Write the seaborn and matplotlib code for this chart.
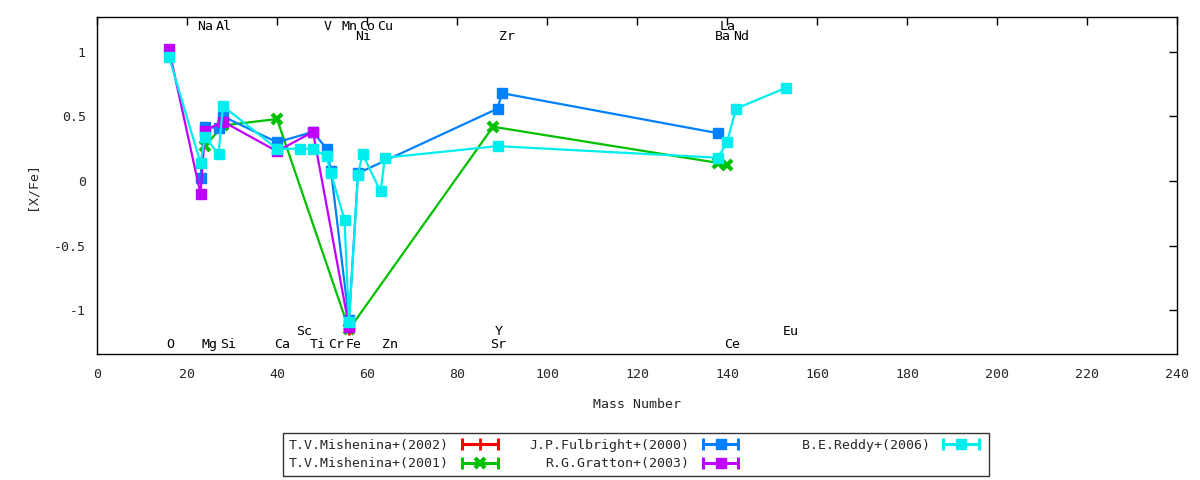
import matplotlib
matplotlib.use("Agg")
import matplotlib.pyplot as plt
from matplotlib.lines import Line2D
from matplotlib.legend_handler import HandlerLine2D, HandlerTuple
import seaborn as sns
import pandas as pd

# ---------------- data ----------------
elements = ["O", "Na", "Mg", "Al", "Si", "Ca", "Sc", "Ti", "V", "Cr", "Mn", "Fe",
            "Ni", "Co", "Cu", "Zn", "Sr", "Y", "Zr", "Ba", "La", "Ce", "Nd", "Eu"]
element_mass = [16, 23, 24, 27, 28, 40, 45, 48, 51, 52, 55, 56,
                58, 59, 63, 64, 88, 89, 90, 138, 139, 140, 142, 153]
# label row: t1/t2 = top rows, b1/b2 = bottom rows
element_row = ["b2", "t1", "b2", "t1", "b2", "b2", "b1", "b2", "t1", "b2", "t1", "b2",
               "t2", "t1", "t1", "b2", "b2", "b1", "t2", "t2", "t1", "b2", "t2", "b1"]

mish2002_x = [56]
mish2002_y = [-1.15]

mish2001_x = [24, 28, 40, 56, 88, 138, 140]
mish2001_y = [0.27, 0.43, 0.48, -1.15, 0.42, 0.14, 0.12]

fulb2000_x = [23, 24, 27, 28, 40, 48, 51, 52, 56, 58, 89, 90, 138]
fulb2000_y = [0.02, 0.42, 0.41, 0.50, 0.30, 0.38, 0.25, 0.08, -1.08, 0.06, 0.56, 0.68, 0.37]

grat2003_x = [16, 23, 24, 28, 40, 48, 56]
grat2003_y = [1.02, -0.10, 0.39, 0.46, 0.23, 0.38, -1.13]

redd2006_x = [16, 23, 24, 27, 28, 40, 45, 48, 51, 52, 55, 56, 58, 59, 63, 64,
              89, 138, 140, 142, 153]
redd2006_y = [0.96, 0.14, 0.34, 0.21, 0.58, 0.25, 0.25, 0.25, 0.19, 0.06, -0.30, -1.09,
              0.05, 0.21, -0.08, 0.18, 0.27, 0.18, 0.30, 0.56, 0.72]

series_names = ["T.V.Mishenina+(2002)", "T.V.Mishenina+(2001)", "J.P.Fulbright+(2000)",
                "R.G.Gratton+(2003)", "B.E.Reddy+(2006)"]
series_x = [mish2002_x, mish2001_x, fulb2000_x, grat2003_x, redd2006_x]
series_y = [mish2002_y, mish2001_y, fulb2000_y, grat2003_y, redd2006_y]

x_ticks = [0, 20, 40, 60, 80, 100, 120, 140, 160, 180, 200, 220, 240]
y_ticks = [-1, -0.5, 0, 0.5, 1]
y_tick_labels = ["-1", "-0.5", "0", "0.5", "1"]

# ---------------- style ----------------
colors = ["#ff0000", "#00c000", "#0080ff", "#c000ff", "#00eeee"]
markers = ["+", "x", "s", "s", "s"]
msizes = [9, 7, 7, 7, 7.5]
mews = [2, 3, 1, 1, 1]
FS = 9.5

sns.set_theme(style="white")
plt.rcParams["font.family"] = ["DejaVu Sans Mono", "DejaVu Sans"]
plt.rcParams["font.size"] = FS

fig = plt.figure(figsize=(12, 4.8), dpi=100)
ax = fig.add_axes([97 / 1200, 1 - 354 / 480, (1177 - 97) / 1200, (354 - 17) / 480])

for name, xs, ys, c, m, ms, mew in zip(series_names, series_x, series_y,
                                       colors, markers, msizes, mews):
    df = pd.DataFrame({"x": xs, "y": ys})
    sns.lineplot(data=df, x="x", y="y", ax=ax, sort=False, estimator=None,
                 color=c, lw=1.6, marker=m, markersize=ms, markeredgewidth=mew,
                 markeredgecolor=c, markerfacecolor=c, legend=False)

ax.set_xlim(0, 240)
ax.set_ylim(-1.34, 1.27)
ax.set_xticks(x_ticks)
ax.set_xticklabels([str(t) for t in x_ticks])
ax.set_yticks(y_ticks)
ax.set_yticklabels(y_tick_labels)
ax.tick_params(direction="in", length=6, width=1, color="black",
               top=True, right=True, labelsize=FS, pad=8)
ax.tick_params(axis="x", pad=10)
for sp in ax.spines.values():
    sp.set_color("black")
    sp.set_linewidth(1)
ax.grid(False)
ax.set_xlabel("Mass Number", fontsize=FS, labelpad=12)
ax.set_ylabel("[X/Fe]", fontsize=FS, labelpad=11)

row_y = {"t1": 1.198, "t2": 1.116, "b1": -1.163, "b2": -1.264}
for el, mass, row in zip(elements, element_mass, element_row):
    ax.text(mass - 0.7, row_y[row], el, ha="left", va="center", fontsize=FS,
            color="black")

# ---------------- legend ----------------
handles = []
hmap = {}
for c, m, ms, mew in zip(colors, markers, msizes, mews):
    cap_line = Line2D([], [], color=c, lw=2.2, marker="|", markersize=9,
                      markeredgewidth=2.2, markeredgecolor=c)
    mark = Line2D([], [], color=c, lw=0, marker=m, markersize=ms,
                  markeredgewidth=mew, markeredgecolor=c, markerfacecolor=c)
    hmap[cap_line] = HandlerLine2D(numpoints=2)
    hmap[mark] = HandlerLine2D(numpoints=1)
    handles.append((cap_line, mark))
hmap[tuple] = HandlerTuple(ndivide=1)

labels = list(series_names)
labels[4] = "    " + labels[4]
leg = fig.legend(handles, labels, handler_map=hmap, loc="center",
                 bbox_to_anchor=(636 / 1200, 1 - 454.5 / 480), ncol=3,
                 markerfirst=False, frameon=True, fancybox=False, shadow=False,
                 fontsize=FS, handlelength=3.3, handletextpad=0.7,
                 columnspacing=2.1, labelspacing=0.4, borderpad=0.45,
                 borderaxespad=0)
leg.get_frame().set_edgecolor("black")
leg.get_frame().set_linewidth(1)
leg.get_frame().set_facecolor("white")

fig.savefig("out.png", dpi=100)
